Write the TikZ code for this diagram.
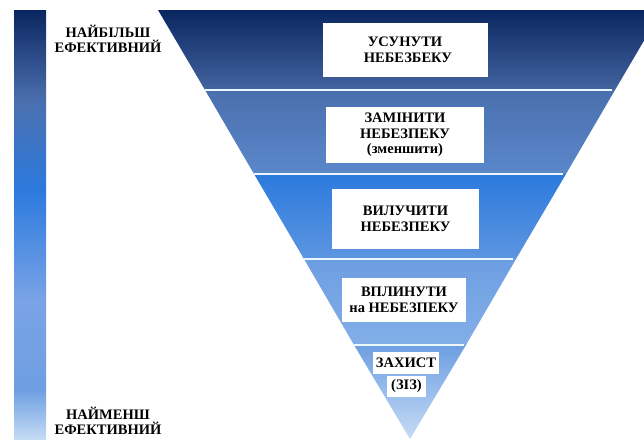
\documentclass[tikz,border=0pt]{standalone}
\usepackage{fontspec}
\setmainfont{Liberation Serif}[BoldFont={Liberation Serif Bold}]
\definecolor{cA}{HTML}{0A2660}
\definecolor{cB}{HTML}{42649F}
\definecolor{cC}{HTML}{4B6FAE}
\definecolor{cD}{HTML}{5A88CB}
\definecolor{cE}{HTML}{2C7ADE}
\definecolor{cF}{HTML}{5D95E0}
\definecolor{cG}{HTML}{6D9EE2}
\definecolor{cH}{HTML}{83AFE8}
\definecolor{cI}{HTML}{6E9FE2}
\definecolor{cJ}{HTML}{C5DBF5}
\definecolor{cK}{HTML}{7AA3E6}
\tikzset{
  lbl/.style={font=\bfseries\fontsize{14.5}{15.5}\selectfont, align=center, text=black, inner sep=0pt},
  wbox/.style={fill=white, draw=none, inner sep=0pt},
  sep/.style={draw=white!92!cyan, line width=2pt}
}
\begin{document}
\begin{tikzpicture}[x=1pt,y=-1pt]
\useasboundingbox (0,0) rectangle (644,439);
\clip (0,0) rectangle (644,439);
% left gradient bar
\shade[top color=cA, bottom color=cC] (14,10) rectangle (46,100.5);
\shade[top color=cC, bottom color=cE] (14,100) rectangle (46,190.5);
\shade[top color=cE, bottom color=cK] (14,190) rectangle (46,300.5);
\shade[top color=cK, bottom color=cI] (14,300) rectangle (46,390.5);
\shade[top color=cI, bottom color=cJ] (14,390) rectangle (46,439);
% triangle bands
\shade[top color=cA, bottom color=cB] (158,10) -- (662,10) -- (615,90) -- (205,90) -- cycle;
\shade[top color=cC, bottom color=cD] (205,90) -- (615,90) -- (566,174) -- (254,174) -- cycle;
\shade[top color=cE, bottom color=cF] (254,174) -- (566,174) -- (516,259) -- (304,259) -- cycle;
\shade[top color=cG, bottom color=cH] (304,259) -- (516,259) -- (466,345) -- (354,345) -- cycle;
\shade[top color=cI, bottom color=cJ] (354,345) -- (466,345) -- (410,439) -- cycle;
% separators
\coordinate (s1l) at (205,90);  \coordinate (s1r) at (612,90);
\coordinate (s2l) at (254,174); \coordinate (s2r) at (563,174);
\coordinate (s3l) at (304,259); \coordinate (s3r) at (513,259);
\coordinate (s4l) at (354,345); \coordinate (s4r) at (464,345);
\draw[sep] (s1l) -- (s1r);
\draw[sep] (s2l) -- (s2r);
\draw[sep] (s3l) -- (s3r);
\draw[sep] (s4l) -- (s4r);
% boxes
\node[wbox, minimum width=165, minimum height=54] (b1) at (405,50) {};
\node[lbl] (t1) at (b1) {УСУНУТИ\\[1pt]\hspace{6pt}НЕБЕЗБЕКУ};
\node[wbox, minimum width=158, minimum height=56] (b2) at (405,135) {};
\node[lbl] (t2) at (b2) {ЗАМІНИТИ\\НЕБЕЗПЕКУ\\(зменшити)};
\node[wbox, minimum width=147, minimum height=60] (b3) at (405.5,219) {};
\node[lbl] (t3) at (b3) {ВИЛУЧИТИ\\НЕБЕЗПЕКУ};
\node[wbox, minimum width=124, minimum height=44] (b4) at (404,300) {};
\node[lbl] (t4) at (b4) {ВПЛИНУТИ\\на НЕБЕЗПЕКУ};
\node[wbox, minimum width=66, minimum height=22] (b5) at (406,363) {};
\node[lbl] (t5) at (b5) {ЗАХИСТ};
\node[wbox, minimum width=39, minimum height=21] (b6) at (406.5,386.5) {};
\node[lbl] (t6) at (b6) {(ЗІЗ)};
% side labels
\node[lbl] (top) at (108,39) {НАЙБІЛЬШ\\ЕФЕКТИВНИЙ};
\node[lbl] (bot) at (108,421) {НАЙМЕНШ\\ЕФЕКТИВНИЙ};
\end{tikzpicture}
\end{document}
